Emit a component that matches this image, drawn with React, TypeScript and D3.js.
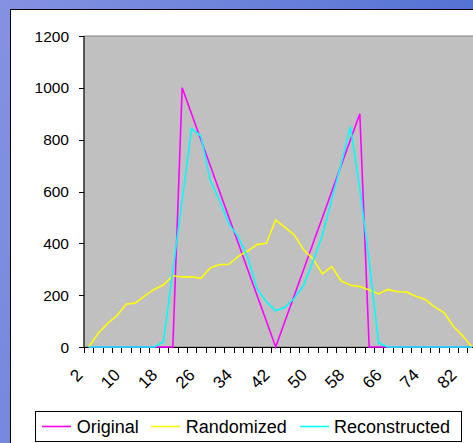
import React from "react";
import * as d3 from "d3";

const categories = [2, 4, 6, 8, 10, 12, 14, 16, 18, 20, 22, 24, 26, 28, 30, 32, 34, 36, 38, 40, 42, 44, 46, 48, 50, 52, 54, 56, 58, 60, 62, 64, 66, 68, 70, 72, 74, 76, 78, 80, 82, 84];
const original = [0, 0, 0, 0, 0, 0, 0, 0, 0, 0, 1000, 900, 800, 700, 600, 500, 400, 300, 200, 100, 0, 100, 200, 300, 400, 500, 600, 700, 800, 900, 0, 0, 0, 0, 0, 0, 0, 0, 0, 0, 0, 0];
const randomized = [0, 52, 90, 120, 165, 170, 197, 222, 240, 275, 270, 271, 265, 305, 318, 319, 350, 370, 395, 400, 490, 462, 432, 375, 340, 282, 310, 255, 238, 233, 220, 205, 222, 213, 212, 196, 183, 155, 133, 80, 43, 0];
const reconstructed = [0, 0, 0, 0, 0, 0, 0, 0, 20, 293, 568, 843, 814, 644, 566, 474, 425, 346, 225, 175, 140, 153, 188, 239, 332, 432, 570, 706, 850, 610, 330, 15, 0, 0, 0, 0, 0, 0, 0, 0, 0, 0];
const yTicks = [0, 200, 400, 600, 800, 1000, 1200];
const xLabels = [2, 10, 18, 26, 34, 42, 50, 58, 66, 74, 82];

const seriesList = [
  { name: "Original", values: original, color: "#ff00ff" },
  { name: "Randomized", values: randomized, color: "#ffff00" },
  { name: "Reconstructed", values: reconstructed, color: "#00ffff" },
];

const W = 473;
const H = 443;
const left = 84;
const top = 36;
const bottom = 347;
const step = 9.35;
const right = left + step * categories.length;
const FONT = "'Liberation Sans', Arial, sans-serif";

export default function App() {
  const x = d3.scaleBand<number>().domain(categories).range([left, right]).paddingInner(0).paddingOuter(0);
  const y = d3.scaleLinear().domain([0, 1200]).range([bottom, top]);
  const cx = (c: number) => (x(c) as number) + x.bandwidth() / 2;
  const line = (vals: number[]) =>
    d3.line<number>().x((_, i) => cx(categories[i])).y((v) => y(v))(vals) as string;

  const legendItems = [
    { lx: 42, tx: 76.7 },
    { lx: 151, tx: 185.7 },
    { lx: 300, tx: 334 },
  ];

  return (
    <div style={{ position: "absolute", left: 0, top: 0 }}>
      <svg width={W} height={H} style={{ display: "block" }}>
        <defs>
          <linearGradient id="bg" x1="0" y1="0" x2="1" y2="0.3">
            <stop offset="0" stopColor="#8592e2" />
            <stop offset="1" stopColor="#4f70d2" />
          </linearGradient>
          <clipPath id="plotclip">
            <rect x={left} y={top - 2} width={right - left} height={bottom - top + 4} />
          </clipPath>
        </defs>
        <rect x={0} y={0} width={W} height={H} fill="url(#bg)" />
        <rect x={10.5} y={9.5} width={W + 10} height={H + 10} fill="#ffffff" stroke="#000" strokeWidth={1} />
        <rect x={left} y={top} width={right - left} height={bottom - top} fill="#c0c0c0" stroke="#808080" strokeWidth={1} />
        <line x1={left} x2={left} y1={top} y2={bottom} stroke="#000" strokeWidth={1} />
        {yTicks.map((t) => (
          <g key={t}>
            <line x1={left - 5} x2={left} y1={Math.round(y(t)) + 0.5} y2={Math.round(y(t)) + 0.5} stroke="#000" />
            <text x={69} y={y(t)} textAnchor="end" dominantBaseline="central" fontFamily={FONT} fontSize={15.5} fill="#000">
              {t}
            </text>
          </g>
        ))}
        <line x1={left} x2={right} y1={bottom + 0.5} y2={bottom + 0.5} stroke="#000" />
        {categories.concat([categories[categories.length - 1] + 2]).map((c, i) => {
          const tx = Math.round(left + i * x.step()) + 0.5;
          return <line key={i} x1={tx} x2={tx} y1={bottom} y2={bottom + 6} stroke="#000" />;
        })}
        {xLabels.map((c) => (
          <text
            key={c}
            transform={`translate(${cx(c) - 5},${376}) rotate(-45)`}
            textAnchor="end"
            fontFamily={FONT}
            fontSize={17}
            fill="#000"
          >
            {c}
          </text>
        ))}
        <g clipPath="url(#plotclip)">
          {seriesList.map((s) => (
            <path key={s.name} d={line(s.values)} fill="none" stroke={s.color} strokeWidth={1.6} strokeLinejoin="miter" />
          ))}
        </g>
        <rect x={35.5} y={411.5} width={426} height={30} fill="#fff" stroke="#000" strokeWidth={1} />
        {seriesList.map((s, i) => (
          <g key={s.name}>
            <line x1={legendItems[i].lx} x2={legendItems[i].lx + 29} y1={426.5} y2={426.5} stroke={s.color} strokeWidth={1.6} />
            <text x={legendItems[i].tx} y={427} dominantBaseline="central" fontFamily={FONT} fontSize={18} fill="#000">
              {s.name}
            </text>
          </g>
        ))}
      </svg>
    </div>
  );
}
